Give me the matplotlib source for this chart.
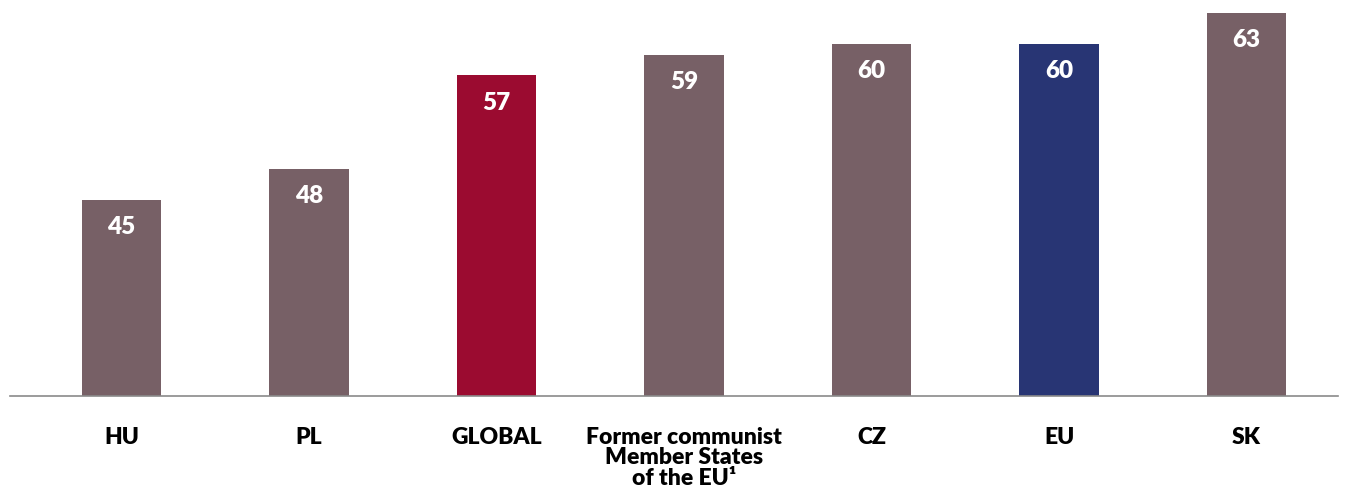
import matplotlib.pyplot as plt

plt.rcParams['font.family'] = ['Lato', 'DejaVu Sans']

categories = ['HU', 'PL', 'GLOBAL', 'Former communist\nMember States\nof the EU¹', 'CZ', 'EU', 'SK']
values = [45, 48, 57, 59, 60, 60, 63]
colors = ['#776066', '#776066', '#9b0b30', '#776066', '#776066', '#283574', '#776066']

fig = plt.figure(figsize=(13.48, 4.97), dpi=100)
ax = fig.add_axes([10 / 1348, 1 - 396 / 497, 1328 / 1348, 396 / 497])

x = range(len(values))
bars = ax.bar(x, values, width=0.425, color=colors)

for b, v in zip(bars, values):
    ax.annotate(str(v), (b.get_x() + b.get_width() / 2, v), xytext=(0, -19.5),
                textcoords='offset points', ha='center', va='center',
                color='white', fontsize=17.5, fontweight='heavy')

ax.set_xlim(-0.595, 6.488)
ax.set_ylim(26.2, 64.25)
ax.set_xticks(list(x))
ax.set_xticklabels(categories, fontsize=16.5, fontweight='heavy', linespacing=0.97)
ax.tick_params(axis='x', length=0, pad=22)
ax.set_yticks([])
for s in ['top', 'right', 'left']:
    ax.spines[s].set_visible(False)
ax.spines['bottom'].set_color('#8a8a8a')
ax.spines['bottom'].set_linewidth(1.2)

fig.savefig('out.png', dpi=100)
